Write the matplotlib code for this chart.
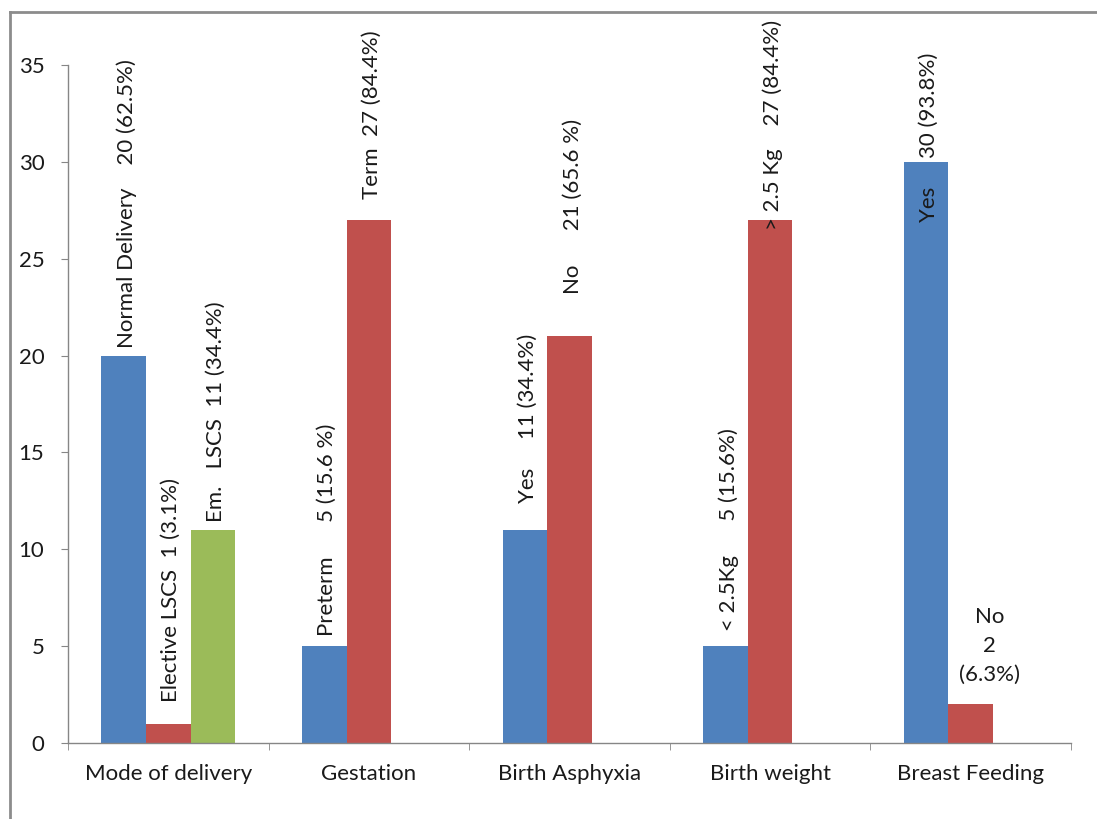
import numpy as np
import matplotlib
matplotlib.use("Agg")
import matplotlib.pyplot as plt
from matplotlib.lines import Line2D
from matplotlib.ticker import FixedLocator

plt.rcParams["font.family"] = ["Lato", "DejaVu Sans"]

# Datos por categoría
categories = ["Mode of delivery", "Gestation", "Birth Asphyxia", "Birth weight", "Breast Feeding"]
blue_vals = [20, 5, 11, 5, 30]
red_vals = [1, 27, 21, 27, 2]
green_vals = [11, None, None, None, None]

blue_names = ["Normal Delivery    ", "Preterm      ", "Yes     ", "< 2.5Kg      ", "Yes     "]
blue_pct = ["62.5%", "15.6 %", "34.4%", "15.6%", "93.8%"]
red_names = ["Elective LSCS  ", "Term  ", "No      ", "> 2.5 Kg    ", "No"]
red_pct = ["3.1%", "84.4%", "65.6 %", "84.4%", "6.3%"]
green_names = ["Em.   LSCS  ", None, None, None, None]
green_pct = ["34.4%", None, None, None, None]

colors = ["#4F81BD", "#C0504D", "#9BBB59"]
fs = 16

fig = plt.figure(figsize=(10.97, 8.19), dpi=100)
ax = fig.add_axes([68 / 1097, 1 - 743 / 819, (1071 - 68) / 1097, (743 - 65) / 819])

x = np.arange(len(categories))
w = 1 / 4.5  # ancho de barra (espacio entre grupos 150%)

series = [(blue_vals, blue_names, blue_pct), (red_vals, red_names, red_pct), (green_vals, green_names, green_pct)]
offsets = [-w, 0, w]

for (vals, names, pcts), off, col in zip(series, offsets, colors):
    xs = [xi + off for xi, v in zip(x, vals) if v is not None]
    hs = [v for v in vals if v is not None]
    ax.bar(xs, hs, width=w, color=col, linewidth=0, zorder=2)

# Desplazamiento vertical de cada etiqueta (unidades de datos)
dy = [[0.4, 0.5, 1.4, 0.8, -3.1],
      [1.1, 1.1, 2.2, -0.5, 1.0],
      [0.4, None, None, None, None]]

for si, ((vals, names, pcts), off) in enumerate(zip(series, offsets)):
    for ci, v in enumerate(vals):
        if v is None:
            continue
        if si == 1 and ci == 4:
            # etiqueta horizontal para "No" en lactancia
            ax.text(x[ci] + off + 0.095, v + dy[si][ci], f"{names[ci]}\n{v}\n({pcts[ci]})",
                    ha="center", va="bottom", fontsize=fs, color="#1a1a1a", linespacing=1.55)
        else:
            ax.text(x[ci] + off + 0.015, v + dy[si][ci], f"{names[ci]}{v} ({pcts[ci]})",
                    rotation=90, ha="center", va="bottom", fontsize=fs, color="#1a1a1a")

ax.set_xlim(-0.5, len(categories) - 0.5)
ax.set_ylim(0, 35)
ax.set_yticks(np.arange(0, 36, 5))
ax.set_xticks(x)
ax.set_xticklabels(categories)
ax.xaxis.set_minor_locator(FixedLocator(np.arange(-0.5, len(categories), 1)))

for s in ["top", "right"]:
    ax.spines[s].set_visible(False)
for s in ["left", "bottom"]:
    ax.spines[s].set_color("#868686")
    ax.spines[s].set_linewidth(1.0)

ax.tick_params(axis="y", length=5, color="#868686", pad=12, labelsize=fs, labelcolor="#1a1a1a")
ax.tick_params(axis="x", which="major", length=0, pad=15, labelsize=fs, labelcolor="#1a1a1a")
ax.tick_params(axis="x", which="minor", length=5, color="#868686")

# Marco del gráfico (solo izquierda y arriba)
fx = 9.5 / 1097
fy = 1 - 12.3 / 819
fig.add_artist(Line2D([fx, fx], [0, fy], transform=fig.transFigure, color="#8C8C8C", linewidth=2))
fig.add_artist(Line2D([fx, 1], [fy, fy], transform=fig.transFigure, color="#8C8C8C", linewidth=2))

fig.savefig("out.png", dpi=100)
